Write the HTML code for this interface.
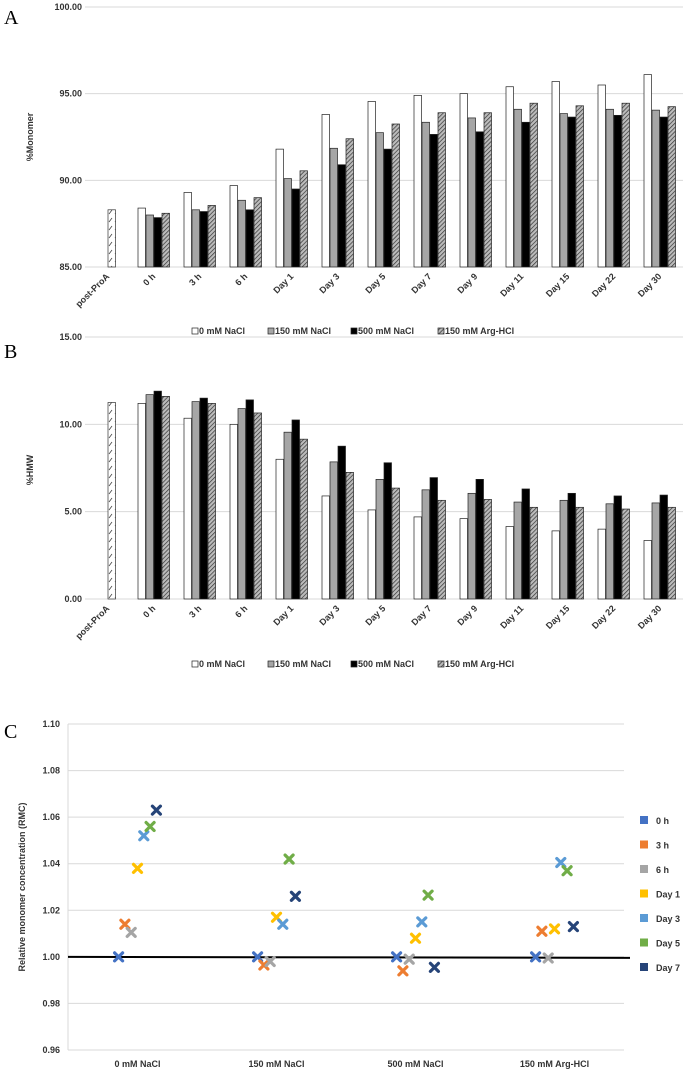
<!DOCTYPE html>
<html><head><meta charset="utf-8"><style>
body{margin:0;background:#fff}
svg{display:block;font-family:"Liberation Sans",Arial,sans-serif}
.t{font-size:9px;font-weight:bold;fill:#333}
</style></head><body>
<svg id="s" width="685" height="1073" viewBox="0 0 685 1073" xmlns="http://www.w3.org/2000/svg">
<defs>
<pattern id="hatch" patternUnits="userSpaceOnUse" width="3" height="3" patternTransform="rotate(45)">
<rect width="3" height="3" fill="#bbb"/><line x1="0" y1="0" x2="0" y2="3" stroke="#333" stroke-width="1.4"/></pattern>
<pattern id="dash" patternUnits="userSpaceOnUse" width="6" height="8">
<rect width="6" height="8" fill="#fff"/><line x1="1" y1="6" x2="4" y2="2" stroke="#444" stroke-width="0.8"/></pattern>
</defs>
<text x="4" y="24" font-family="Liberation Serif" font-size="20">A</text>
<text x="4" y="358" font-family="Liberation Serif" font-size="20">B</text>
<text x="4" y="738" font-family="Liberation Serif" font-size="20">C</text>
<g id="ga"></g>
<g id="gb"></g>
<g id="gc"></g>
</svg>
<script>
const categories=["0 h","3 h","6 h","Day 1","Day 3","Day 5","Day 7","Day 9","Day 11","Day 15","Day 22","Day 30"];
const seriesNames=["0 mM NaCl","150 mM NaCl","500 mM NaCl","150 mM Arg-HCl"];
const monoPostProA=88.3;
const mono0=[88.4,89.3,89.7,91.8,93.8,94.55,94.9,95.0,95.4,95.7,95.5,96.1];
const mono150=[88.0,88.3,88.85,90.1,91.85,92.75,93.35,93.6,94.1,93.85,94.1,94.05];
const mono500=[87.85,88.2,88.3,89.5,90.9,91.8,92.65,92.8,93.35,93.65,93.75,93.65];
const monoArg=[88.1,88.55,89.0,90.55,92.4,93.25,93.9,93.9,94.45,94.3,94.45,94.25];
const monoTicks=["85.00","90.00","95.00","100.00"];
const hmwPostProA=11.25;
const hmw0=[11.2,10.35,10.0,8.0,5.9,5.1,4.7,4.6,4.15,3.9,4.0,3.35];
const hmw150=[11.7,11.3,10.9,9.55,7.85,6.85,6.25,6.05,5.55,5.65,5.45,5.5];
const hmw500=[11.9,11.5,11.4,10.25,8.75,7.8,6.95,6.85,6.3,6.05,5.9,5.95];
const hmwArg=[11.6,11.2,10.65,9.15,7.25,6.35,5.65,5.7,5.25,5.25,5.15,5.25];
const hmwTicks=["0.00","5.00","10.00","15.00"];
const rmcCats=["0 mM NaCl","150 mM NaCl","500 mM NaCl","150 mM Arg-HCl"];
const rmcTimes=["0 h","3 h","6 h","Day 1","Day 3","Day 5","Day 7"];
const rmc0h=[1.000,1.000,1.000,1.000];
const rmc3h=[1.014,0.9965,0.994,1.011];
const rmc6h=[1.0105,0.998,0.999,0.9995];
const rmcD1=[1.038,1.017,1.008,1.012];
const rmcD3=[1.052,1.014,1.015,1.0405];
const rmcD5=[1.056,1.042,1.0265,1.037];
const rmcD7=[1.063,1.026,0.9955,1.013];
const rmcTicks=["0.96","0.98","1.00","1.02","1.04","1.06","1.08","1.10"];

const NS="http://www.w3.org/2000/svg";
function mk(p,tag,at,txt){const e=document.createElementNS(NS,tag);for(const k in at)e.setAttribute(k,at[k]);if(txt!==undefined)e.textContent=txt;p.appendChild(e);return e;}
const fills=["#fff","#a6a6a6","#000","url(#hatch)"];

function barChart(g,post,series,ticks,y0,yPix0,yPix1,title,titleY,legY){
  const vmin=parseFloat(ticks[0]),vmax=parseFloat(ticks[ticks.length-1]);
  const y=v=>yPix0+(v-vmin)/(vmax-vmin)*(yPix1-yPix0);
  const left=85,right=683,n=categories.length+1,cw=(right-left)/n;
  const cx=i=>left+cw*(i+0.5);
  ticks.forEach(t=>{const v=parseFloat(t);
    const l=mk(g,"line",{x1:left,x2:right,y1:y(v),y2:y(v),stroke:"#d9d9d9","stroke-width":1});
    
    
    const tx=mk(g,"text",{x:left-3,y:y(v)+3,"text-anchor":"end",class:"t"},t);
    
    
  });
  const ti=mk(g,"text",{x:0,y:0,class:"t",transform:`translate(33,${titleY}) rotate(-90)`,"text-anchor":"middle"},title);
  
  
  const pb=mk(g,"rect",{x:cx(0),y:y(post),width:7.5,height:y(vmin)-y(post),fill:"url(#dash)",stroke:"#333","stroke-width":0.7});
  
  
  const allc=["post-ProA"].concat(categories);
  allc.forEach((c,i)=>{
    const t=mk(g,"text",{x:0,y:0,class:"t","text-anchor":"end",transform:`translate(${cx(i)+2},${yPix0+10}) rotate(-45)`},c);
    
    
  });
  series.forEach((s,j)=>{s.forEach((v,i)=>{
    const r=mk(g,"rect",{x:cx(i+1)-16+8*j,y:y(v),width:7.5,height:y(vmin)-y(v),fill:fills[j],stroke:"#222","stroke-width":0.7});
    
    
  });});
  const lx=[192,268,351,438];
  seriesNames.forEach((nm,j)=>{
    const lg=mk(g,"g",{});
    
    
    mk(lg,"rect",{x:lx[j],y:legY-6,width:6,height:6,fill:fills[j],stroke:"#222","stroke-width":0.7});
    mk(lg,"text",{x:lx[j]+7,y:legY,class:"t"},nm);
  });
}
barChart(document.getElementById("ga"),monoPostProA,[mono0,mono150,mono500,monoArg],monoTicks,0,267,7,"%Monomer",137,334);
barChart(document.getElementById("gb"),hmwPostProA,[hmw0,hmw150,hmw500,hmwArg],hmwTicks,0,599,337,"%HMW",470,667);

(function(){
  const g=document.getElementById("gc");
  const series=[rmc0h,rmc3h,rmc6h,rmcD1,rmcD3,rmcD5,rmcD7];
  const cols=["#4472C4","#ED7D31","#A5A5A5","#FFC000","#5B9BD5","#70AD47","#264478"];
  const vmin=0.96,vmax=1.10,p0=1050,p1=724;
  const y=v=>p0+(v-vmin)/(vmax-vmin)*(p1-p0);
  const left=68,right=624,cw=(right-left)/rmcCats.length,cx=i=>left+cw*(i+0.5);
  rmcTicks.forEach(t=>{const v=parseFloat(t);
    const l=mk(g,"line",{x1:left,x2:right,y1:y(v),y2:y(v),stroke:"#d9d9d9","stroke-width":1});
    
    
    const tx=mk(g,"text",{x:left-8,y:y(v)+3,"text-anchor":"end",class:"t"},t);
    
    
  });
  const ax=mk(g,"line",{x1:left,x2:left,y1:p1,y2:p0,stroke:"#d9d9d9"});
  
  
  const ref=mk(g,"line",{x1:left,x2:right+6,y1:y(1.0),y2:y(1.0)+1,stroke:"#000","stroke-width":2});
  
  
  const ti=mk(g,"text",{x:0,y:0,class:"t",transform:`translate(25,887) rotate(-90)`,"text-anchor":"middle"},"Relative monomer concentration (RMC)");
  
  
  rmcCats.forEach((c,i)=>{
    const t=mk(g,"text",{x:cx(i),y:1067,class:"t","text-anchor":"middle"},c);
    
    
  });
  series.forEach((s,j)=>{s.forEach((v,i)=>{
    const px=cx(i)+(j-3)*6.3,py=y(v);
    const m=mk(g,"path",{d:`M${px-4},${py-4}L${px+4},${py+4}M${px-4},${py+4}L${px+4},${py-4}`,stroke:cols[j],"stroke-width":3.2,"stroke-linecap":"round",fill:"none"});
    
    
  });});
  rmcTimes.forEach((nm,j)=>{
    const lg=mk(g,"g",{});
    
    
    const yy=821+j*24.5;
    mk(lg,"rect",{x:640,y:yy-5,width:8,height:8,fill:cols[j]});
    mk(lg,"text",{x:656,y:yy+3,class:"t"},nm);
  });
})();
</script>
</body></html>
